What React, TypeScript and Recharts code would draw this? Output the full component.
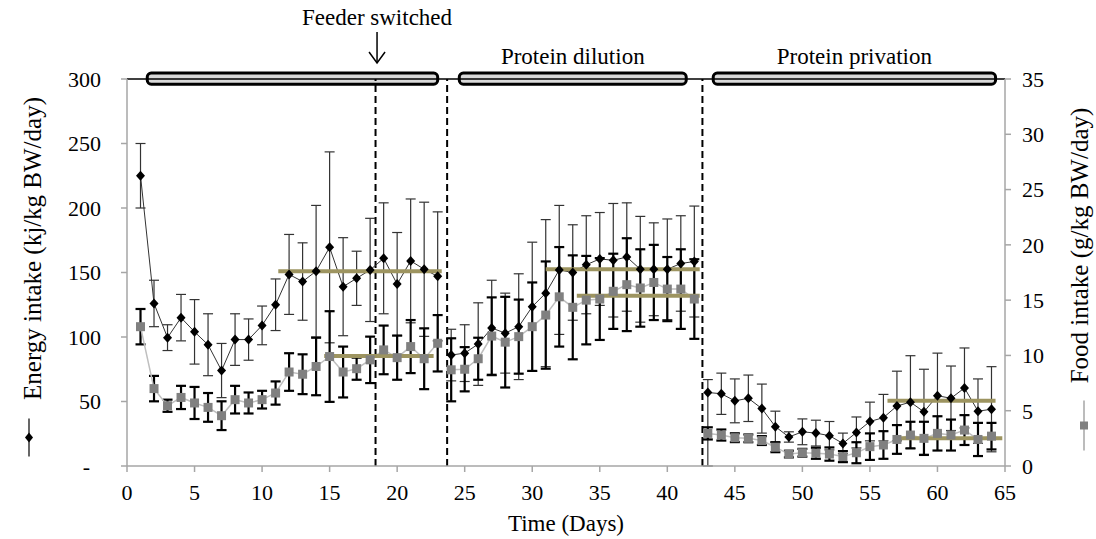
import React from 'react';
import {
  ComposedChart,
  Line,
  XAxis,
  YAxis,
  ErrorBar,
  ReferenceLine,
  ReferenceArea,
  Label,
} from 'recharts';

const FONT = '"Liberation Serif", "Times New Roman", serif';

// Days of the experiment
const days = [
  1, 2, 3, 4, 5, 6, 7, 8, 9, 10, 11, 12, 13, 14, 15, 16, 17, 18, 19, 20, 21, 22, 23,
  24, 25, 26, 27, 28, 29, 30, 31, 32, 33, 34, 35, 36, 37, 38, 39, 40, 41, 42,
  43, 44, 45, 46, 47, 48, 49, 50, 51, 52, 53, 54, 55, 56, 57, 58, 59, 60, 61, 62, 63, 64,
];

// Energy intake (kj/kg BW/day), left axis
const energy = [
  225, 126, 99.5, 115, 104, 94, 74, 98, 98, 109, 125, 148.5, 143, 151, 169.5, 139, 145.5, 152, 161, 141, 159, 152.5, 147,
  86, 87.5, 94.5, 107, 103, 108, 123.5, 134, 152, 150, 156, 160.5, 159.5, 162, 152.5, 152.5, 152.5, 157, 158.5,
  57, 56, 50.5, 52.5, 44.5, 30.5, 22.5, 26.5, 25.5, 23.5, 17.5, 26, 34.5, 37.5, 46.5, 49.5, 42, 54.5, 52.5, 60.5, 42.5, 44,
];
const energyErr: (number | number[])[] = [
  25, 18, 10, 18, 25, 24, 21, 20, 16, 15, 20, 31, 30, 51, 74, 38, 21, 40, 43, 40, 48, 52, 50,
  20, 22, 32, 37, 31, 41, 50, 57, 50, 37, 38, 36, 44, 42, 41, 36, 39, 37, 43,
  [57, 10], 16, 17, 18, 19, 12, 4, 10, 10, 11, 8, 12, 15, 18, 27, 36, 33, 33, 25, 31, 25, 33,
];

// Food intake (g/kg BW/day), right axis
const food = [
  12.6, 7.0, 5.45, 6.2, 5.7, 5.3, 4.55, 6.0, 5.7, 6.0, 6.6, 8.5, 8.3, 9.0, 9.9, 8.5, 8.8, 9.6, 10.5, 9.8, 10.8, 9.7, 11.1,
  8.7, 8.75, 9.7, 11.75, 11.2, 11.7, 12.6, 13.65, 15.3, 14.35, 15.0, 15.1, 15.8, 16.4, 16.1, 16.6, 16.0, 16.0, 15.1,
  2.95, 2.8, 2.56, 2.5, 2.3, 1.7, 1.08, 1.2, 1.15, 1.08, 0.85, 1.2, 1.75, 1.9, 2.4, 2.8, 2.5, 2.95, 2.8, 3.25, 2.4, 2.7,
];
const foodErr = [
  1.6, 1.15, 0.55, 1.05, 1.45, 1.3, 1.3, 1.25, 0.95, 0.8, 1.05, 1.7, 1.8, 2.6, 4.1, 2.3, 1.0, 2.1, 2.2, 2.0, 2.4, 2.75, 2.55,
  2.85, 2.0, 1.9, 3.5, 4.1, 3.35, 4.0, 4.85, 4.5, 4.7, 4.0, 3.7, 3.4, 4.2, 3.5, 3.4, 2.9, 3.6, 3.6,
  0.55, 0.5, 0.4, 0.35, 0.4, 0.45, 0.3, 0.35, 0.5, 0.6, 0.5, 0.95, 1.2, 1.25, 1.3, 1.2, 1.5, 1.55, 1.4, 1.35, 1.5, 1.2,
];

// Phases: [first day, last day]
const phases = [
  [1, 23],
  [24, 42],
  [43, 64],
];
// Phase bars on top: [start, end]
const phaseBars = [
  [1.5, 23],
  [24.6, 41.4],
  [43.4, 64.3],
];
const phaseLabels = ['', 'Protein dilution', 'Protein privation'];
const dashedDays = [18.4, 23.7, 42.6];

// Mean lines: [start day, end day, value]
const energyMeans = [
  [11.2, 23.3, 151],
  [31, 42.4, 152.5],
  [56.3, 64.3, 50.6],
];
const foodMeans = [
  [14.6, 22.7, 9.95],
  [33.3, 42.4, 15.4],
  [56.8, 64.8, 2.5],
];

const xTicks = [0, 5, 10, 15, 20, 25, 30, 35, 40, 45, 50, 55, 60, 65];
const leftTicks = [0, 50, 100, 150, 200, 250, 300];
const rightTicks = [0, 5, 10, 15, 20, 25, 30, 35];

const rows = days.map((d, i) => ({
  day: d,
  energy: energy[i],
  energyErr: energyErr[i],
  food: food[i],
  foodErr: foodErr[i],
}));
const phaseData = phases.map(([a, b]) => rows.filter((r) => r.day >= a && r.day <= b));

const AXIS = '#a6a6a6';
const OLIVE = '#9d9460';

const Diamond = (p: any) => {
  const { cx, cy } = p;
  if (cx == null || cy == null) return null;
  return (
    <path
      key={`d-${p.index}`}
      d={`M${cx},${cy - 5} L${cx + 4.5},${cy} L${cx},${cy + 5} L${cx - 4.5},${cy} Z`}
      fill="#000"
    />
  );
};

const Square = (p: any) => {
  const { cx, cy } = p;
  if (cx == null || cy == null) return null;
  return <rect key={`s-${p.index}`} x={cx - 4.5} y={cy - 4.5} width={9} height={9} fill="#808080" />;
};

const LeftTitle = (props: any) => {
  const vb = props.viewBox;
  const cx = vb.x + 32;
  const cy = vb.y + vb.height / 2 - 24;
  const gx = vb.x + 29;
  return (
    <g>
      <text
        x={cx}
        y={cy}
        dy="0.35em"
        textAnchor="middle"
        transform={`rotate(-90, ${cx}, ${cy})`}
        fontSize={25}
        fontFamily={FONT}
        fill="#000"
      >
        Energy intake (kj/kg BW/day)
      </text>
      <line x1={gx} y1={cy + 170} x2={gx} y2={cy + 208} stroke="#000" strokeWidth={1.2} />
      <path
        d={`M${gx},${cy + 184} L${gx + 4},${cy + 189} L${gx},${cy + 194} L${gx - 4},${cy + 189} Z`}
        fill="#000"
      />
    </g>
  );
};

const RightTitle = (props: any) => {
  const vb = props.viewBox;
  const cx = vb.x + 74;
  const cy = vb.y + vb.height / 2 - 27;
  const gx = vb.x + 79;
  return (
    <g>
      <text
        x={cx}
        y={cy}
        dy="0.35em"
        textAnchor="middle"
        transform={`rotate(-90, ${cx}, ${cy})`}
        fontSize={25}
        fontFamily={FONT}
        fill="#000"
      >
        Food intake (g/kg BW/day)
      </text>
      <line x1={gx} y1={cy + 155} x2={gx} y2={cy + 205} stroke="#a6a6a6" strokeWidth={1.5} />
      <rect x={gx - 4} y={cy + 176} width={8} height={8} fill="#808080" />
    </g>
  );
};

const FeederLabel = (props: any) => {
  const vb = props.viewBox;
  const x = vb.x + 1.5;
  const top = vb.y;
  return (
    <g>
      <text x={x} y={top - 54} textAnchor="middle" fontSize={23} fontFamily={FONT} fill="#000">
        Feeder switched
      </text>
      <line x1={x} y1={top - 47} x2={x} y2={top - 16} stroke="#000" strokeWidth={1.5} />
      <polyline
        points={`${x - 8},${top - 27} ${x},${top - 16} ${x + 8},${top - 27}`}
        fill="none"
        stroke="#000"
        strokeWidth={1.5}
      />
    </g>
  );
};

const tickStyle = { fontSize: 22, fill: '#000', fontFamily: FONT };

export default function App() {
  return (
    <div style={{ position: 'absolute', left: 0, top: 0, width: 1096, height: 539, background: '#fff' }}>
      <ComposedChart width={1096} height={539} margin={{ top: 79, right: 0, bottom: 0, left: 0 }}>
        <XAxis
          dataKey="day"
          type="number"
          domain={[0, 65]}
          ticks={xTicks}
          allowDataOverflow
          height={73}
          tick={tickStyle}
          tickSize={6}
          tickMargin={12}
          axisLine={{ stroke: AXIS, strokeWidth: 1.5 }}
          tickLine={{ stroke: AXIS, strokeWidth: 1.5 }}
        >
          <Label
            value="Time (Days)"
            position="insideBottom"
            offset={8}
            style={{ fontSize: 23, fill: '#000', fontFamily: FONT }}
          />
        </XAxis>
        <YAxis
          yAxisId="left"
          orientation="left"
          type="number"
          domain={[0, 300]}
          ticks={leftTicks}
          allowDataOverflow
          width={127}
          tick={tickStyle}
          tickSize={6}
          tickMargin={20}
          tickFormatter={(v: number) => (v === 0 ? '-\u00a0\u00a0' : String(v))}
          axisLine={{ stroke: AXIS, strokeWidth: 1.5 }}
          tickLine={{ stroke: AXIS, strokeWidth: 1.5 }}
          label={<Label content={LeftTitle} />}
        />
        <YAxis
          yAxisId="right"
          orientation="right"
          type="number"
          domain={[0, 35]}
          ticks={rightTicks}
          allowDataOverflow
          width={91}
          tick={tickStyle}
          tickSize={6}
          tickMargin={11}
          axisLine={{ stroke: AXIS, strokeWidth: 1.5 }}
          tickLine={{ stroke: AXIS, strokeWidth: 1.5 }}
          label={<Label content={RightTitle} />}
        />

        <ReferenceLine yAxisId="left" y={300} stroke="#000" strokeWidth={1.5} ifOverflow="visible" />

        {dashedDays.map((d, i) => (
          <ReferenceLine
            key={`dash-${i}`}
            yAxisId="left"
            x={d}
            stroke="#000"
            strokeWidth={2}
            strokeDasharray="7 4"
            label={i === 0 ? <Label content={FeederLabel} /> : undefined}
          />
        ))}

        {phaseBars.map(([a, b], i) => (
          <ReferenceArea
            key={`bar-${i}`}
            yAxisId="left"
            x1={a}
            x2={b}
            y1={296}
            y2={304.6}
            ifOverflow="visible"
            fill="#d9d9d9"
            fillOpacity={1}
            stroke="#000"
            strokeWidth={3}
            radius={4}
            label={
              phaseLabels[i]
                ? {
                    value: phaseLabels[i],
                    position: 'top',
                    offset: 9,
                    style: { fontSize: 23, fill: '#000', fontFamily: FONT },
                  }
                : undefined
            }
          />
        ))}

        {phaseData.map((data, i) => (
          <Line
            key={`energy-${i}`}
            yAxisId="left"
            data={data}
            dataKey="energy"
            stroke="#333"
            strokeWidth={1}
            dot={Diamond}
            activeDot={false}
            isAnimationActive={false}
          >
            <ErrorBar dataKey="energyErr" width={5} stroke="#333" strokeWidth={1.2} direction="y" />
          </Line>
        ))}
        {phaseData.map((data, i) => (
          <Line
            key={`food-${i}`}
            yAxisId="right"
            data={data}
            dataKey="food"
            stroke="#bfbfbf"
            strokeWidth={1.5}
            dot={Square}
            activeDot={false}
            isAnimationActive={false}
          >
            <ErrorBar dataKey="foodErr" width={5} stroke="#000" strokeWidth={2.2} direction="y" />
          </Line>
        ))}

        {energyMeans.map(([a, b, v], i) => (
          <ReferenceLine
            key={`em-${i}`}
            yAxisId="left"
            segment={[
              { x: a, y: v },
              { x: b, y: v },
            ]}
            stroke={OLIVE}
            strokeWidth={4}
            ifOverflow="visible"
          />
        ))}
        {foodMeans.map(([a, b, v], i) => (
          <ReferenceLine
            key={`fm-${i}`}
            yAxisId="right"
            segment={[
              { x: a, y: v },
              { x: b, y: v },
            ]}
            stroke={OLIVE}
            strokeWidth={4}
            ifOverflow="visible"
          />
        ))}
      </ComposedChart>
    </div>
  );
}
